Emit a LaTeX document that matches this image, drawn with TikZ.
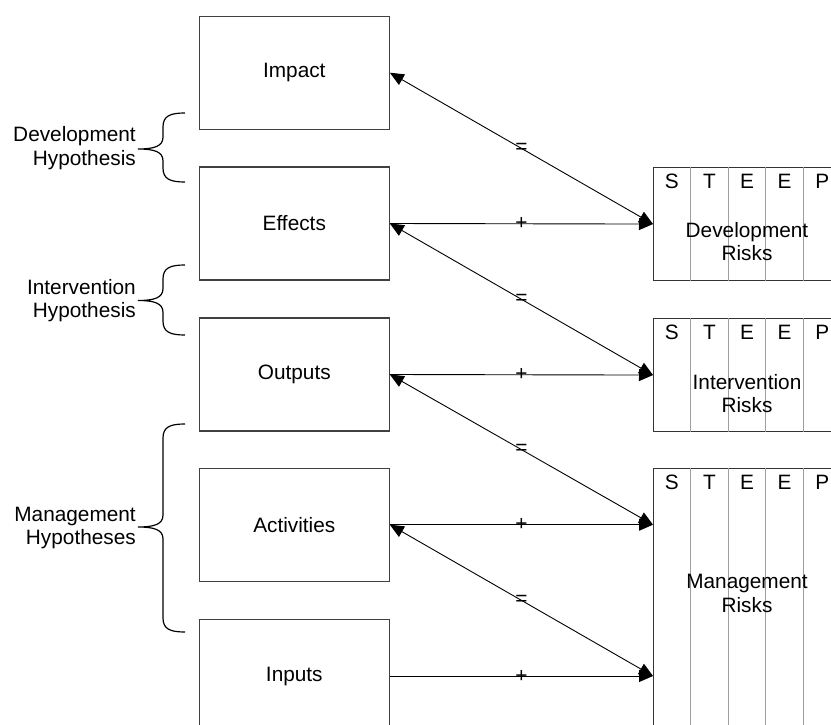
\documentclass[tikz,border=0pt]{standalone}
\usepackage{fontspec}
\setmainfont{Liberation Sans}
\usetikzlibrary{arrows.meta}

\tikzset{
  txt/.style={font=\fontsize{20.8}{23.3}\selectfont, inner sep=0pt},
  lvlbox/.style={txt, draw=black!75, line width=1.1pt,
    minimum width=190pt, minimum height=113pt},
  riskbox/.style={draw=black!80, line width=1.1pt, minimum width=188pt,
    anchor=north west, inner sep=0pt},
  colline/.style={draw=black!38, line width=0.8pt},
  sidelbl/.style={txt, align=right, anchor=east},
  risklbl/.style={txt, align=center},
  conn/.style={draw=black, line width=0.9pt},
  bracestyle/.style={draw=black, line width=1.2pt},
}

% column dividers and S T E E P headings inside a risk box
\newcommand{\steepcols}[1]{%
  \foreach \i in {1,...,4}
    \draw[colline] ([xshift=\i*37.6pt]#1.north west) -- ([xshift=\i*37.6pt]#1.south west);
  \foreach \l [count=\i] in {S,T,E,E,P}
    \node[txt] at ([xshift=(\i-0.5)*37.6pt, yshift=-14pt]#1.north west) {\l};
}

% left curly brace: top, tip and bottom heights
\newcommand{\drawbrace}[3]{%
  \draw[bracestyle] (185,#1) .. controls (170,#1) and (163,#1+3) .. (163,#1+14)
    -- (163,#2-12) .. controls (163,#2-3) and (155,#2) .. (138,#2)
    .. controls (155,#2) and (163,#2+3) .. (163,#2+12)
    -- (163,#3-14) .. controls (163,#3-3) and (170,#3) .. (185,#3);
}

\begin{document}
\begin{tikzpicture}[x=1pt, y=-1pt, >={Triangle[length=14pt,width=12pt]}]
\useasboundingbox (0,0) rectangle (831,725);
\clip (0,0) rectangle (831,725);

% results chain
\node[lvlbox] (impact)     at (294.3,72.7)  {Impact};
\node[lvlbox] (effects)    at (294.3,223.5) {Effects};
\node[lvlbox] (outputs)    at (294.3,374.5) {Outputs};
\node[lvlbox] (activities) at (294.3,524.7) {Activities};
\node[lvlbox] (inputs)     at (294.3,676)   {Inputs};

% risk boxes
\node[riskbox, minimum height=113pt] (devR) at (653,167) {};
\node[riskbox, minimum height=113pt] (intR) at (653,318) {};
\node[riskbox, minimum height=300pt] (mgtR) at (653,468) {};
\steepcols{devR}
\steepcols{intR}
\steepcols{mgtR}
\node[risklbl] (devT) at (747,241.5) {Development\\Risks};
\node[risklbl] (intT) at (747,393.5) {Intervention\\Risks};
\node[risklbl] (mgtT) at (747,593.5) {Management\\Risks};

\coordinate (mA) at (mgtR.west |- activities.east);
\coordinate (mB) at (mgtR.west |- inputs.east);

% connectors
\draw[conn,<->] (impact.east)     -- node[txt]{=} (devR.west);
\draw[conn,->]  (effects.east)    -- node[txt]{+} (devR.west);
\draw[conn,<->] (effects.east)    -- node[txt]{=} (intR.west);
\draw[conn,->]  (outputs.east)    -- node[txt]{+} (intR.west);
\draw[conn,<->] (outputs.east)    -- node[txt]{=} (mA);
\draw[conn,->]  (activities.east) -- node[txt]{+} (mA);
\draw[conn,<->] (activities.east) -- node[txt]{=} (mB);
\draw[conn,->]  (inputs.east)     -- node[txt]{+} (mB);

% hypotheses
\drawbrace{113}{149}{182}
\drawbrace{265}{300.5}{335}
\drawbrace{424}{527}{632}
\node[sidelbl] (devH) at (136,148)   {Development\\Hypothesis};
\node[sidelbl] (intH) at (136,300.5) {Intervention\\Hypothesis};
\node[sidelbl] (mgtH) at (136,528)   {Management\\Hypotheses};
\end{tikzpicture}
\end{document}
